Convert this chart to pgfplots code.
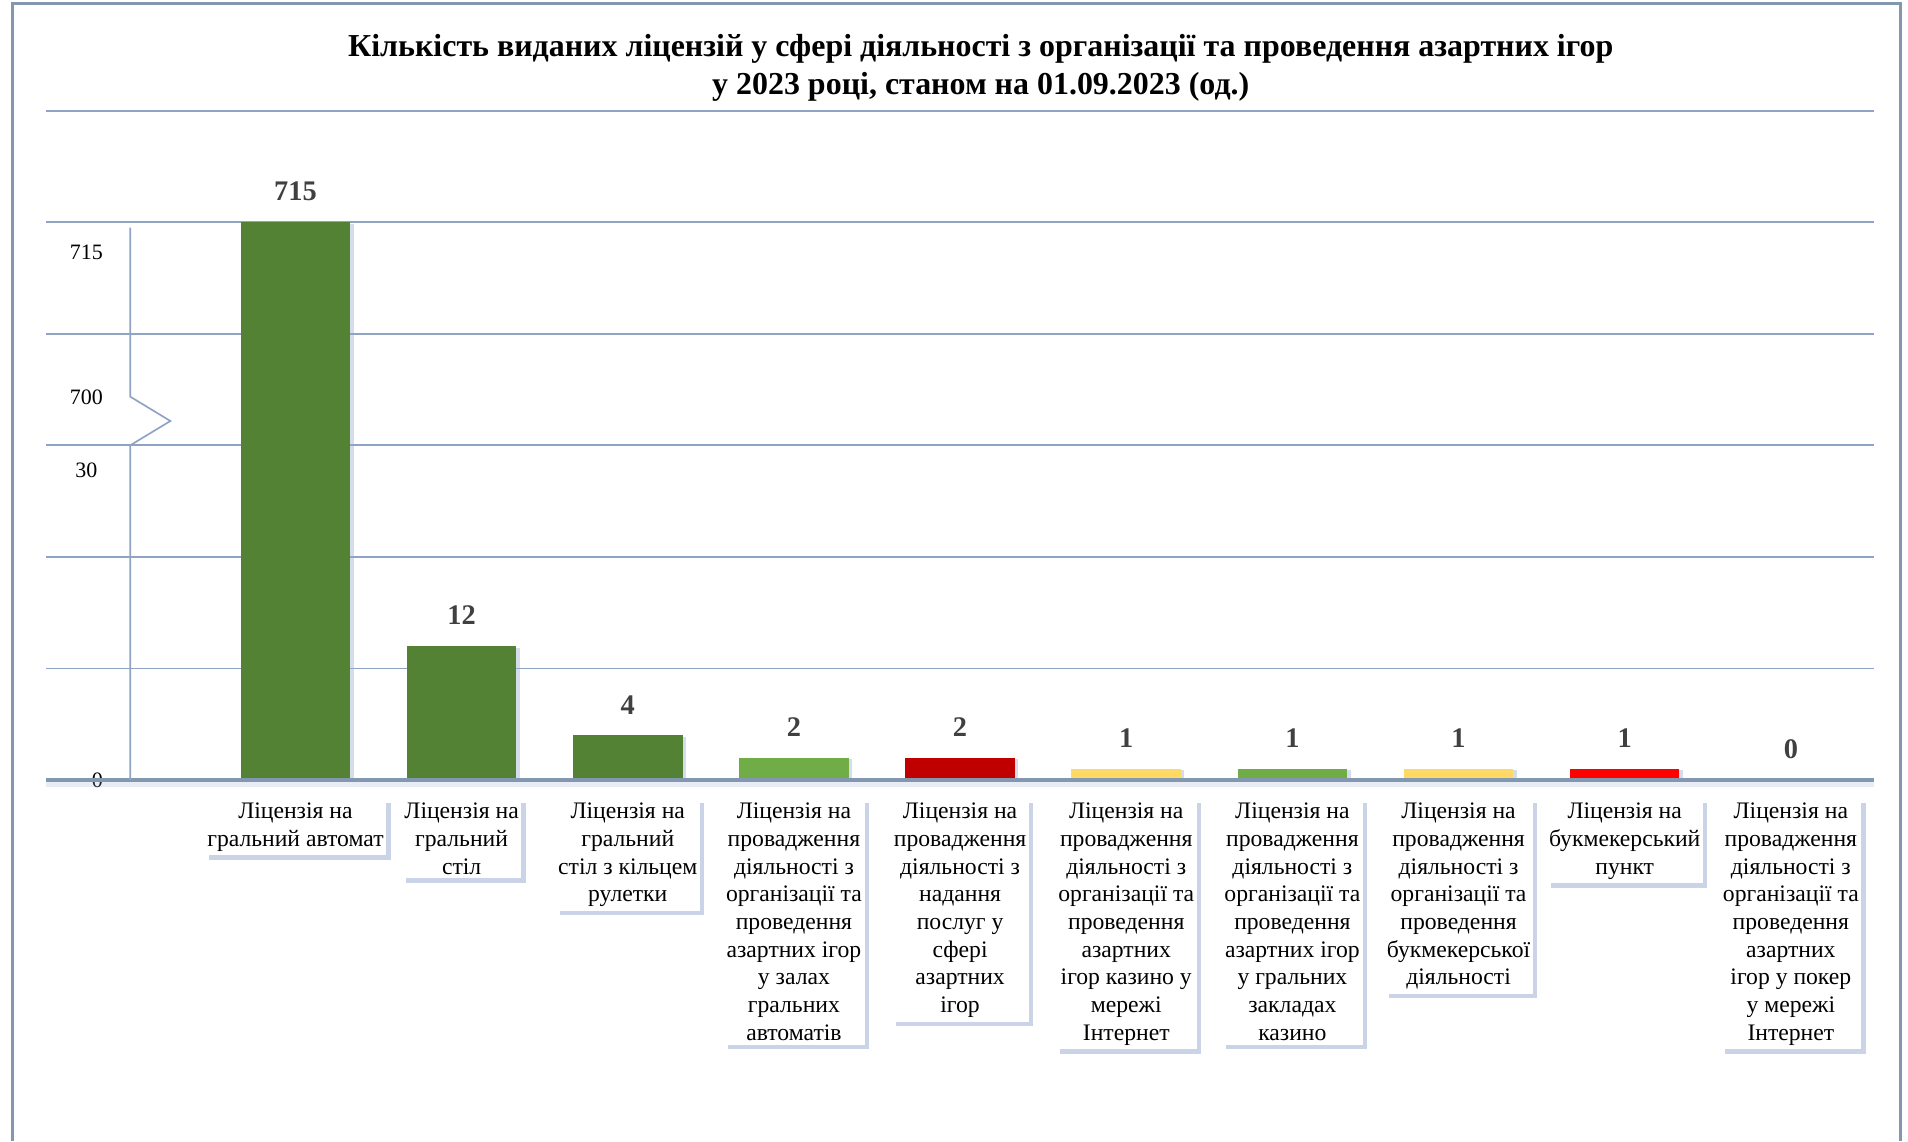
\documentclass[border=0pt]{standalone}
\usepackage{fontspec}
\setmainfont{Liberation Serif}
\usepackage{pgfplots}
\pgfplotsset{compat=1.18}
\usetikzlibrary{shadows}
\definecolor{dgreen}{RGB}{84,130,53}
\definecolor{lgreen}{RGB}{112,173,71}
\definecolor{dred}{RGB}{192,0,0}
\definecolor{yel}{RGB}{255,217,102}
\definecolor{bred}{RGB}{255,0,0}
\definecolor{gridc}{RGB}{143,164,196}
\definecolor{framec}{RGB}{132,151,176}
\definecolor{shadowc}{RGB}{150,170,205}
\definecolor{labc}{RGB}{64,64,64}
\begin{document}
\begin{tikzpicture}
\begin{axis}[
  width=540.72pt, height=198pt, scale only axis,
  xmin=-1.5, xmax=9.5, ymin=0, ymax=725,
  y coord trafo/.code={\pgfmathparse{#1>500 ? #1-665 : #1}},
  clip=false, axis line style={draw=none},
  ymajorgrids, grid style={gridc, line width=0.5pt},
  major tick length=0pt,
  ytick={0,10,20,30,705,715,725},
  yticklabels={\hphantom{00}0,{},{},{},{},{},{}},
  yticklabel style={anchor=center, xshift=11.9pt, inner sep=0pt, font=\fontsize{6.5}{7.5}\selectfont},
  extra y ticks={27.8,699.35,712.3},
  extra y tick labels={30,700,715},
  extra y tick style={grid=none},
  xtick={0,1,2,3,4,5,6,7,8,9},
  xticklabels={
    {Ліцензія на\\гральний автомат},
    {Ліцензія на\\гральний\\стіл},
    {Ліцензія на\\гральний\\стіл з кільцем\\рулетки},
    {Ліцензія на\\провадження\\діяльності з\\організації та\\проведення\\азартних ігор\\у залах\\гральних\\автоматів},
    {Ліцензія на\\провадження\\діяльності з\\надання\\послуг у\\сфері\\азартних\\ігор},
    {Ліцензія на\\провадження\\діяльності з\\організації та\\проведення\\азартних\\ігор казино у\\мережі\\Інтернет},
    {Ліцензія на\\провадження\\діяльності з\\організації та\\проведення\\азартних ігор\\у гральних\\закладах\\казино},
    {Ліцензія на\\провадження\\діяльності з\\організації та\\проведення\\букмекерської\\діяльності},
    {Ліцензія на\\букмекерський\\пункт},
    {Ліцензія на\\провадження\\діяльності з\\організації та\\проведення\\азартних\\ігор у покер\\у мережі\\Інтернет}},
  xticklabel style={anchor=north, yshift=-5.4pt, align=center, fill=white,
    inner xsep=0.8pt, inner ysep=1.2pt, text=black,
    font=\fontsize{7}{8.2}\selectfont,
    drop shadow={shadow xshift=1.3pt, shadow yshift=-1.3pt, fill=shadowc, opacity=0.5}},
  nodes near coords, point meta=rawy,
  /pgf/number format/assume math mode=true,
  every node near coord/.append style={anchor=south, inner sep=0pt, yshift=6.1pt,
    text=labc, font=\bfseries\fontsize{8.4}{9}\selectfont},
]
\addplot[ybar, bar width=32.4pt, bar shift=0pt, fill=dgreen, draw=none,
  drop shadow={shadow xshift=1.0pt, shadow yshift=-0.5pt, fill=shadowc, opacity=0.4}] coordinates {(0,715)};
\addplot[ybar, bar width=32.4pt, bar shift=0pt, fill=dgreen, draw=none,
  drop shadow={shadow xshift=1.0pt, shadow yshift=-0.5pt, fill=shadowc, opacity=0.4}] coordinates {(1,12)};
\addplot[ybar, bar width=32.4pt, bar shift=0pt, fill=dgreen, draw=none,
  drop shadow={shadow xshift=1.0pt, shadow yshift=-0.5pt, fill=shadowc, opacity=0.4}] coordinates {(2,4)};
\addplot[ybar, bar width=32.4pt, bar shift=0pt, fill=lgreen, draw=none,
  drop shadow={shadow xshift=1.0pt, shadow yshift=-0.5pt, fill=shadowc, opacity=0.4}] coordinates {(3,2)};
\addplot[ybar, bar width=32.4pt, bar shift=0pt, fill=dred, draw=none,
  drop shadow={shadow xshift=1.0pt, shadow yshift=-0.5pt, fill=shadowc, opacity=0.4}] coordinates {(4,2)};
\addplot[ybar, bar width=32.4pt, bar shift=0pt, fill=yel, draw=none,
  drop shadow={shadow xshift=1.0pt, shadow yshift=-0.5pt, fill=shadowc, opacity=0.4}] coordinates {(5,1)};
\addplot[ybar, bar width=32.4pt, bar shift=0pt, fill=lgreen, draw=none,
  drop shadow={shadow xshift=1.0pt, shadow yshift=-0.5pt, fill=shadowc, opacity=0.4}] coordinates {(6,1)};
\addplot[ybar, bar width=32.4pt, bar shift=0pt, fill=yel, draw=none,
  drop shadow={shadow xshift=1.0pt, shadow yshift=-0.5pt, fill=shadowc, opacity=0.4}] coordinates {(7,1)};
\addplot[ybar, bar width=32.4pt, bar shift=0pt, fill=bred, draw=none,
  drop shadow={shadow xshift=1.0pt, shadow yshift=-0.5pt, fill=shadowc, opacity=0.4}] coordinates {(8,1)};
\addplot[ybar, bar width=32.4pt, bar shift=0pt, fill=none, draw=none] coordinates {(9,0)};
% baseline with soft shadow
\fill[shadowc, opacity=0.22] (rel axis cs:0,-0.002) rectangle (rel axis cs:1,-0.011);
\draw[framec, line width=1.1pt] (rel axis cs:0,0) -- (rel axis cs:1,0);
% broken vertical axis
\draw[gridc, line width=0.5pt] (rel axis cs:0.04594,0) -- (rel axis cs:0.04594,0.5)
  -- (rel axis cs:0.06791,0.53636) -- (rel axis cs:0.04594,0.57273) -- (rel axis cs:0.04594,0.82545);
% frame
\draw[framec, line width=0.8pt] (rel axis cs:-0.01864,-0.54) -- (rel axis cs:-0.01864,1.16)
  -- (rel axis cs:1.01465,1.16) -- (rel axis cs:1.01465,-0.54);
% title
\node[align=center, font=\bfseries\fontsize{9.45}{11.2}\selectfont] at (rel axis cs:0.5113,1.0635)
  {Кількість виданих ліцензій у сфері діяльності з організації та проведення азартних ігор\\у 2023 році, станом на 01.09.2023 (од.)};
\coordinate (BL) at (rel axis cs:-0.0253,-0.54);
\coordinate (TR) at (rel axis cs:1.01864,1.16545);
\end{axis}
\pgfresetboundingbox
\path[use as bounding box] (BL) rectangle (TR);
\end{tikzpicture}
\end{document}
